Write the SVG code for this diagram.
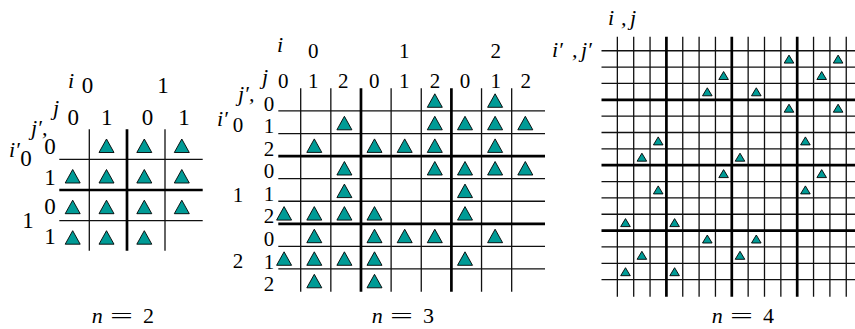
<svg xmlns="http://www.w3.org/2000/svg" xmlns:xlink="http://www.w3.org/1999/xlink" width="855" height="329" viewBox="0 0 855 329" font-family="'Liberation Serif', 'DejaVu Serif', serif">
<style>
.bg{fill:#fff}
.ln{stroke:#111;stroke-width:1.3;fill:none}
.tk{stroke:#000;stroke-width:2.7;fill:none}
.tri{fill:#009b96;stroke:#000;stroke-width:0.9;stroke-linejoin:miter}
text{font-family:'Liberation Serif','DejaVu Serif',serif;fill:#000}
.d{font-size:21px;text-anchor:middle}
.d2{font-size:23px;text-anchor:middle}
.it{font-style:italic;font-size:22px}
.eq{font-size:22px}
</style>
<defs>
<path id="tb" class="tri" d="M0,-13.5 L7.5,0 L-7.5,0 Z"/>
<path id="ts" class="tri" d="M0,-8 L4.8,0 L-4.8,0 Z"/>
</defs>
<rect class="bg" x="0" y="0" width="855" height="329"/>

<g id="panel-n2">
  <g id="grid-n2">
    <path class="ln" d="M89.3,129.3V250.7M165,129.3V250.7M59.3,159.3H202.7M59.3,220.7H202.7"/>
    <path class="tk" d="M127,129.3V250.7M59.3,190H202.7"/>
  </g>
  <g id="marks-n2">
    <use xlink:href="#tb" x="106.5" y="152.5"/><use xlink:href="#tb" x="144.3" y="152.5"/><use xlink:href="#tb" x="181.8" y="152.5"/>
    <use xlink:href="#tb" x="72.7" y="183"/><use xlink:href="#tb" x="106.5" y="183"/><use xlink:href="#tb" x="144.3" y="183"/><use xlink:href="#tb" x="181.8" y="183"/>
    <use xlink:href="#tb" x="72.7" y="213.7"/><use xlink:href="#tb" x="106.5" y="213.7"/><use xlink:href="#tb" x="144.3" y="213.7"/><use xlink:href="#tb" x="181.8" y="213.7"/>
    <use xlink:href="#tb" x="72.7" y="244.2"/><use xlink:href="#tb" x="106.5" y="244.2"/><use xlink:href="#tb" x="144.3" y="244.2"/>
  </g>
  <g id="labels-n2">
    <text class="it" x="68" y="88">i</text>
    <text class="it" x="53" y="114.5">j</text>
    <text class="it" x="31" y="135">j′,</text>
    <text class="it" x="9" y="157">i′</text>
    <text class="d2" x="87.5" y="93">0</text>
    <text class="d2" x="163" y="93">1</text>
    <text class="d2" x="26" y="166">0</text>
    <text class="d2" x="28" y="228">1</text>
    <text class="d2" x="73.3" y="125">0</text>
    <text class="d2" x="106.7" y="125">1</text>
    <text class="d2" x="147.5" y="125">0</text>
    <text class="d2" x="184" y="125">1</text>
    <text class="d2" x="50" y="154">0</text>
    <text class="d2" x="50" y="184.5">1</text>
    <text class="d2" x="50" y="214">0</text>
    <text class="d2" x="50" y="244">1</text>
    <text class="eq" x="91.7" y="323"><tspan font-style="italic">n</tspan><tspan x="110" textLength="23" lengthAdjust="spacingAndGlyphs">=</tspan><tspan x="143">2</tspan></text>
  </g>
</g>

<g id="panel-n3">
  <g id="grid-n3">
    <path class="ln" d="M300.7,88.3V291.7M330.84,88.3V291.7M391.12,88.3V291.7M421.26,88.3V291.7M481.54,88.3V291.7M511.68,88.3V291.7M278.3,110.97H545M278.3,133.54H545M278.3,178.68H545M278.3,201.25H545M278.3,246.39H545M278.3,268.96H545"/>
    <path class="tk" d="M360.98,88.3V291.7M451.4,88.3V291.7M278.3,156.11H545M278.3,223.82H545"/>
  </g>
  <g id="marks-n3">
    <use xlink:href="#tb" x="434.8" y="107.3"/><use xlink:href="#tb" x="495.1" y="107.3"/>
    <use xlink:href="#tb" x="344.4" y="129.8"/><use xlink:href="#tb" x="434.8" y="129.8"/><use xlink:href="#tb" x="465" y="129.8"/><use xlink:href="#tb" x="495.1" y="129.8"/><use xlink:href="#tb" x="525.3" y="129.8"/>
    <use xlink:href="#tb" x="314.3" y="152.4"/><use xlink:href="#tb" x="374.5" y="152.4"/><use xlink:href="#tb" x="404.7" y="152.4"/><use xlink:href="#tb" x="434.8" y="152.4"/><use xlink:href="#tb" x="495.1" y="152.4"/>
    <use xlink:href="#tb" x="344.4" y="175"/><use xlink:href="#tb" x="434.8" y="175"/><use xlink:href="#tb" x="465" y="175"/><use xlink:href="#tb" x="495.1" y="175"/><use xlink:href="#tb" x="525.3" y="175"/>
    <use xlink:href="#tb" x="344.4" y="197.6"/><use xlink:href="#tb" x="465" y="197.6"/>
    <use xlink:href="#tb" x="284.1" y="220.1"/><use xlink:href="#tb" x="314.3" y="220.1"/><use xlink:href="#tb" x="344.4" y="220.1"/><use xlink:href="#tb" x="374.5" y="220.1"/><use xlink:href="#tb" x="465" y="220.1"/>
    <use xlink:href="#tb" x="314.3" y="242.7"/><use xlink:href="#tb" x="374.5" y="242.7"/><use xlink:href="#tb" x="404.7" y="242.7"/><use xlink:href="#tb" x="434.8" y="242.7"/><use xlink:href="#tb" x="495.1" y="242.7"/>
    <use xlink:href="#tb" x="284.1" y="265.3"/><use xlink:href="#tb" x="314.3" y="265.3"/><use xlink:href="#tb" x="344.4" y="265.3"/><use xlink:href="#tb" x="374.5" y="265.3"/><use xlink:href="#tb" x="465" y="265.3"/>
    <use xlink:href="#tb" x="314.3" y="287.8"/><use xlink:href="#tb" x="374.5" y="287.8"/>
  </g>
  <g id="labels-n3">
    <text class="it" x="277" y="52">i</text>
    <text class="it" x="262" y="84">j</text>
    <text class="it" x="238" y="101">j′,</text>
    <text class="it" x="217" y="126">i′</text>
    <text class="d" x="313.3" y="58">0</text>
    <text class="d" x="404.3" y="58">1</text>
    <text class="d" x="495.7" y="58">2</text>
    <text class="d" x="283.3" y="88">0</text>
    <text class="d" x="313.3" y="88">1</text>
    <text class="d" x="343.3" y="88">2</text>
    <text class="d" x="374.3" y="88">0</text>
    <text class="d" x="404.3" y="88">1</text>
    <text class="d" x="435" y="88">2</text>
    <text class="d" x="465" y="88">0</text>
    <text class="d" x="495.7" y="88">1</text>
    <text class="d" x="525.7" y="88">2</text>
    <text class="d" x="269" y="110.5">0</text>
    <text class="d" x="269" y="133">1</text>
    <text class="d" x="269" y="155.6">2</text>
    <text class="d" x="269" y="178.2">0</text>
    <text class="d" x="269" y="200.8">1</text>
    <text class="d" x="269" y="223.3">2</text>
    <text class="d" x="269" y="245.9">0</text>
    <text class="d" x="269" y="268.5">1</text>
    <text class="d" x="269" y="291">2</text>
    <text class="d" x="238" y="132">0</text>
    <text class="d" x="238" y="201.7">1</text>
    <text class="d" x="238" y="268.3">2</text>
    <text class="eq" x="371.7" y="323"><tspan font-style="italic">n</tspan><tspan x="390" textLength="23" lengthAdjust="spacingAndGlyphs">=</tspan><tspan x="423">3</tspan></text>
  </g>
</g>

<g id="panel-n4">
  <g id="grid-n4">
    <path class="ln" d="M617.35,36.7V296.7M633.7,36.7V296.7M650.05,36.7V296.7M682.75,36.7V296.7M699.1,36.7V296.7M715.45,36.7V296.7M748.15,36.7V296.7M764.5,36.7V296.7M780.85,36.7V296.7M813.55,36.7V296.7M829.9,36.7V296.7M846.25,36.7V296.7"/>
    <path class="ln" d="M601.5,50.75H855M601.5,67.1H855M601.5,83.45H855M601.5,116.15H855M601.5,132.5H855M601.5,148.85H855M601.5,181.55H855M601.5,197.9H855M601.5,214.25H855M601.5,246.95H855M601.5,263.3H855M601.5,279.65H855"/>
    <path class="tk" d="M666.4,36.7V296.7M731.8,36.7V296.7M797.2,36.7V296.7M601.5,99.8H855M601.5,165.2H855M601.5,230.6H855"/>
  </g>
  <g id="marks-n4">
    <use xlink:href="#ts" x="789" y="63.1"/><use xlink:href="#ts" x="838.1" y="63.1"/>
    <use xlink:href="#ts" x="723.6" y="79.5"/><use xlink:href="#ts" x="821.7" y="79.5"/>
    <use xlink:href="#ts" x="707.3" y="95.8"/><use xlink:href="#ts" x="756.3" y="95.8"/>
    <use xlink:href="#ts" x="789" y="112.2"/><use xlink:href="#ts" x="838.1" y="112.2"/>
    <use xlink:href="#ts" x="658.2" y="144.9"/><use xlink:href="#ts" x="805.4" y="144.9"/>
    <use xlink:href="#ts" x="641.9" y="161.2"/><use xlink:href="#ts" x="740" y="161.2"/>
    <use xlink:href="#ts" x="723.6" y="177.6"/><use xlink:href="#ts" x="821.7" y="177.6"/>
    <use xlink:href="#ts" x="658.2" y="193.9"/><use xlink:href="#ts" x="805.4" y="193.9"/>
    <use xlink:href="#ts" x="625.5" y="226.6"/><use xlink:href="#ts" x="674.6" y="226.6"/>
    <use xlink:href="#ts" x="707.3" y="243"/><use xlink:href="#ts" x="756.3" y="243"/>
    <use xlink:href="#ts" x="641.9" y="259.3"/><use xlink:href="#ts" x="740" y="259.3"/>
    <use xlink:href="#ts" x="625.5" y="275.7"/><use xlink:href="#ts" x="674.6" y="275.7"/>
  </g>
  <g id="labels-n4">
    <text class="it" x="608" y="25"><tspan>i</tspan><tspan x="621">,</tspan><tspan x="630">j</tspan></text>
    <text class="it" x="552" y="57"><tspan>i′</tspan><tspan x="572">,</tspan><tspan x="581">j′</tspan></text>
    <text class="eq" x="711.7" y="323"><tspan font-style="italic">n</tspan><tspan x="730" textLength="23" lengthAdjust="spacingAndGlyphs">=</tspan><tspan x="763">4</tspan></text>
  </g>
</g>
</svg>
